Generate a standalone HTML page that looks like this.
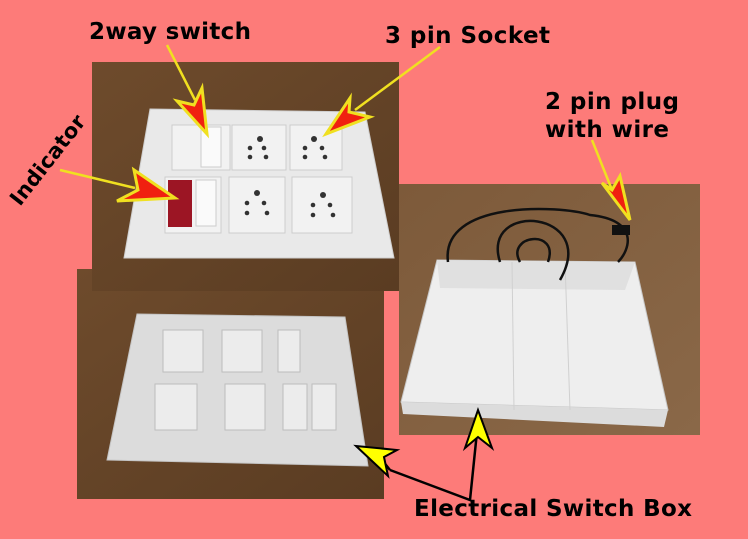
<!DOCTYPE html>
<html><head><meta charset="utf-8"><style>
html,body{margin:0;padding:0;background:#fd7b79;}
svg{display:block}
text{font-family:"DejaVu Sans","Liberation Sans",sans-serif;font-weight:bold;fill:#000}
</style></head><body>
<svg width="748" height="539" viewBox="0 0 748 539" xmlns="http://www.w3.org/2000/svg">
<defs>
<linearGradient id="w1" x1="0" y1="0" x2="1" y2="1"><stop offset="0" stop-color="#6e4b2c"/><stop offset="1" stop-color="#5a3c22"/></linearGradient>
<linearGradient id="w3" x1="0" y1="0" x2="1" y2="1"><stop offset="0" stop-color="#7d5a3a"/><stop offset="1" stop-color="#8a6848"/></linearGradient>
</defs>
<rect width="748" height="539" fill="#fd7b79"/>
<!-- photo 2 (bottom left) -->
<rect x="77" y="269" width="307" height="230" fill="url(#w1)"/>
<polygon points="137,314 345,317 368,466 107,460" fill="#dcdcdc" stroke="#c4c4c4"/>
<g fill="#ececec" stroke="#bdbdbd">
<rect x="163" y="330" width="40" height="42"/><rect x="222" y="330" width="40" height="42"/><rect x="278" y="330" width="22" height="42"/>
<rect x="155" y="384" width="42" height="46"/><rect x="225" y="384" width="40" height="46"/><rect x="283" y="384" width="24" height="46"/><rect x="312" y="384" width="24" height="46"/>
</g>
<!-- photo 1 (top left) -->
<rect x="92" y="62" width="307" height="229" fill="url(#w1)"/>
<polygon points="150,109 365,112 394,258 124,258" fill="#e9e9e9" stroke="#cfcfcf"/>
<g fill="#f2f2f2" stroke="#cdcdcd">
<rect x="172" y="125" width="58" height="45"/><rect x="232" y="125" width="54" height="45"/><rect x="290" y="125" width="52" height="45"/>
<rect x="165" y="177" width="56" height="56"/><rect x="229" y="177" width="56" height="56"/><rect x="292" y="177" width="60" height="56"/>
</g>
<rect x="168" y="180" width="24" height="47" fill="#9c1524"/>
<rect x="196" y="180" width="20" height="46" fill="#fafafa" stroke="#ccc"/>
<rect x="201" y="127" width="20" height="40" fill="#fafafa" stroke="#ccc"/>
<g fill="#333">
<circle cx="260" cy="139" r="3"/><circle cx="250" cy="148" r="2.3"/><circle cx="264" cy="148" r="2.3"/><circle cx="250" cy="157" r="2.3"/><circle cx="266" cy="157" r="2.3"/>
<circle cx="314" cy="139" r="3"/><circle cx="305" cy="148" r="2.3"/><circle cx="322" cy="148" r="2.3"/><circle cx="305" cy="157" r="2.3"/><circle cx="325" cy="157" r="2.3"/>
<circle cx="257" cy="193" r="3"/><circle cx="247" cy="203" r="2.3"/><circle cx="264" cy="203" r="2.3"/><circle cx="247" cy="213" r="2.3"/><circle cx="267" cy="213" r="2.3"/>
<circle cx="323" cy="195" r="3"/><circle cx="313" cy="205" r="2.3"/><circle cx="330" cy="205" r="2.3"/><circle cx="313" cy="215" r="2.3"/><circle cx="333" cy="215" r="2.3"/>
</g>
<!-- photo 3 (right) -->
<rect x="399" y="184" width="301" height="251" fill="url(#w3)"/>
<polygon points="437,260 635,262 668,410 401,402" fill="#eeeeee" stroke="#c8c8c8"/>
<polygon points="437,260 635,262 625,290 440,288" fill="#e0e0e0"/>
<polygon points="401,402 668,410 664,427 403,414" fill="#dcdcdc"/>
<line x1="512" y1="262" x2="514" y2="410" stroke="#d0d0d0"/><line x1="565" y1="262" x2="570" y2="410" stroke="#d0d0d0"/>
<path d="M448,262 C440,200 560,205 590,215 C640,220 630,250 618,262 M500,262 C480,200 600,210 560,280 M520,262 C505,235 560,228 548,262" fill="none" stroke="#111" stroke-width="2.5"/>
<rect x="612" y="225" width="18" height="10" fill="#111"/>
<!-- arrows -->
<g stroke="#f0e020" stroke-width="2.5" fill="none"><line x1="167" y1="45" x2="195" y2="100"/><line x1="440" y1="47" x2="355" y2="110"/><line x1="60" y1="170" x2="135" y2="188"/><line x1="592" y1="140" x2="612" y2="190"/></g>
<g fill="#f02010" stroke="#f0e020" stroke-width="3" stroke-linejoin="miter">
<polygon points="177,101 194,105 202,88 207,134"/>
<polygon points="326,134 350,98 349,112 370,117"/>
<polygon points="175,198 134,170 138,190 117,201"/>
<polygon points="630,220 602,183 612,190 620,176"/>
</g>
<g stroke="#000" stroke-width="2.5" fill="none"><polyline points="390,470 470,500 478,422"/><line x1="378" y1="455" x2="390" y2="470"/></g>
<polygon points="356,446 397,450 384,457 388,476" fill="#ffff00" stroke="#000" stroke-width="2"/>
<polygon points="478,410 492,448 478,437 465,448" fill="#ffff00" stroke="#000" stroke-width="2"/>
<!-- labels -->
<text x="89" y="39" font-size="23" textLength="162">2way switch</text>
<text x="385" y="43" font-size="23" textLength="165">3 pin Socket</text>
<text x="545" y="109" font-size="23" textLength="134">2 pin plug</text>
<text x="545" y="137" font-size="23" textLength="124">with wire</text>
<text x="414" y="516" font-size="23" textLength="278">Electrical Switch Box</text>
<text x="0" y="0" font-size="21" textLength="108" transform="translate(20,207) rotate(-52)">Indicator</text>
</svg>
</body></html>
